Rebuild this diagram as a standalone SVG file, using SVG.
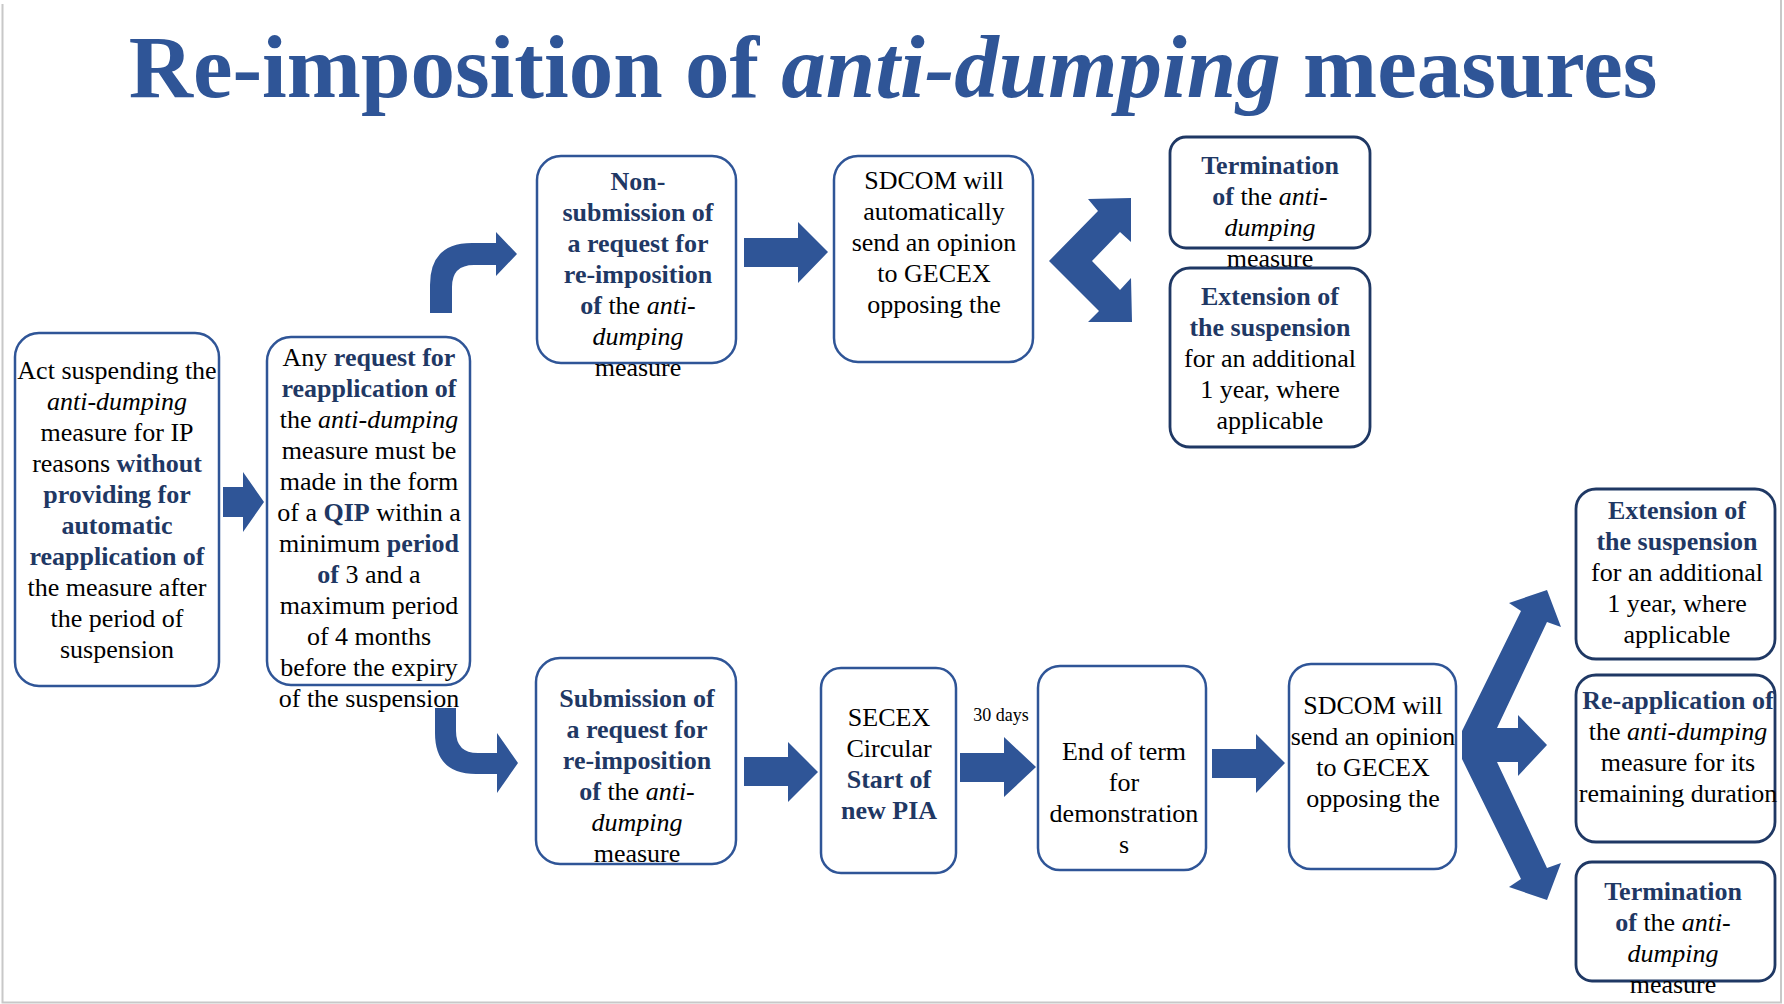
<svg xmlns="http://www.w3.org/2000/svg" width="1784" height="1004" viewBox="0 0 1784 1004">
<style>
.bg{fill:#ffffff}
.frame{stroke:#c8c8c8;stroke-width:2;fill:none}
.box{fill:#ffffff;stroke:#2F5597;stroke-width:2.5}
.box2{fill:#ffffff;stroke:#1F3864;stroke-width:2.8}
.arr{fill:#2F5597}
.t{font-family:"Liberation Serif","Times New Roman",serif;font-size:26px;fill:#000000;text-anchor:middle}
.b{font-weight:bold;fill:#1F3864}
.i{font-style:italic}
.title{font-family:"Liberation Serif","Times New Roman",serif;font-size:89px;font-weight:bold;fill:#2F5597;text-anchor:middle}
.small{font-family:"Liberation Serif","Times New Roman",serif;font-size:18px;fill:#000000;text-anchor:middle}
</style>
<rect class="bg" x="0" y="0" width="1784" height="1004"/>
<path class="frame" d="M2.5,4 V1002.5 H1781 V0"/>
<g id="title">
<text class="title" x="893" y="97">Re-imposition of <tspan font-style="italic">anti-dumping</tspan> measures</text>
</g>
<g id="connectors">
<polygon class="arr" points="223,487 243,487 243,472 264,502 243,532 243,517 223,517"/>
<path class="arr" d="M430,313 L430,285 Q430,243 472,243 L496,243 L496,232 L517,254 L496,276 L496,265 L474,265 Q452,265 452,287 L452,313 Z"/>
<path class="arr" d="M435,708 L435,733 Q435,774 476,774 L497,774 L497,793 L518,763 L497,733 L497,753 L478,753 Q456,753 456,731 L456,708 Z"/>
<polygon class="arr" points="744,238 798,238 798,222 828,252 798,283 798,267 744,267"/>
<polygon class="arr" points="1049,261 1098,211 1088,199 1131,198 1131,242 1120,232 1092,261 1120,290 1131,278 1132,322 1088,322 1099,311"/>
<polygon class="arr" points="744,757 788,757 788,742 818,772 788,802 788,786 744,786"/>
<text class="small" x="1001" y="721">30 days</text>
<polygon class="arr" points="960,753 1004,753 1004,737 1036,767 1004,797 1004,782 960,782"/>
<polygon class="arr" points="1212,749 1256,749 1256,734 1285,763 1256,793 1256,778 1212,778"/>
<polygon class="arr" points="1462,731 1521,611 1509,603 1547,590 1561,627 1547,622 1497,728 1518,728 1518,715 1547,745 1518,776 1518,762 1497,762 1547,868 1561,863 1547,900 1509,887 1521,879 1462,759"/>
</g>
<g id="n1">
<rect class="box" x="15" y="333" width="204" height="353" rx="24"/>
<text class="t" x="117" y="379">Act suspending the</text>
<text class="t i" x="117" y="410">anti-dumping</text>
<text class="t" x="117" y="441">measure for IP</text>
<text class="t" x="117" y="472">reasons <tspan class="b">without</tspan></text>
<text class="t b" x="117" y="503">providing for</text>
<text class="t b" x="117" y="534">automatic</text>
<text class="t b" x="117" y="565">reapplication of</text>
<text class="t" x="117" y="596">the measure after</text>
<text class="t" x="117" y="627">the period of</text>
<text class="t" x="117" y="658">suspension</text>
</g>
<g id="n2">
<rect class="box" x="267" y="337" width="203" height="348" rx="24"/>
<text class="t" x="369" y="366">Any <tspan class="b">request for</tspan></text>
<text class="t b" x="369" y="397">reapplication of</text>
<text class="t" x="369" y="428">the <tspan class="i">anti-dumping</tspan></text>
<text class="t" x="369" y="459">measure must be</text>
<text class="t" x="369" y="490">made in the form</text>
<text class="t" x="369" y="521">of a <tspan class="b">QIP</tspan> within a</text>
<text class="t" x="369" y="552">minimum <tspan class="b">period</tspan></text>
<text class="t" x="369" y="583"><tspan class="b">of</tspan> 3 and a</text>
<text class="t" x="369" y="614">maximum period</text>
<text class="t" x="369" y="645">of 4 months</text>
<text class="t" x="369" y="676">before the expiry</text>
<text class="t" x="369" y="707">of the suspension</text>
</g>
<g id="n3">
<rect class="box" x="537" y="156" width="199" height="207" rx="24"/>
<text class="t b" x="638" y="190">Non-</text>
<text class="t b" x="638" y="221">submission of</text>
<text class="t b" x="638" y="252">a request for</text>
<text class="t b" x="638" y="283">re-imposition</text>
<text class="t" x="638" y="314"><tspan class="b">of</tspan> the <tspan class="i">anti-</tspan></text>
<text class="t i" x="638" y="345">dumping</text>
<text class="t" x="638" y="376">measure</text>
</g>
<g id="n4">
<rect class="box" x="834" y="156" width="199" height="206" rx="24"/>
<text class="t" x="934" y="189">SDCOM will</text>
<text class="t" x="934" y="220">automatically</text>
<text class="t" x="934" y="251">send an opinion</text>
<text class="t" x="934" y="282">to GECEX</text>
<text class="t" x="934" y="313">opposing the</text>
</g>
<g id="n5">
<rect class="box2" x="1170" y="137" width="200" height="111" rx="16"/>
<text class="t b" x="1270" y="174">Termination</text>
<text class="t" x="1270" y="205"><tspan class="b">of</tspan> the <tspan class="i">anti-</tspan></text>
<text class="t i" x="1270" y="236">dumping</text>
<text class="t" x="1270" y="267">measure</text>
</g>
<g id="n6">
<rect class="box2" x="1170" y="268" width="200" height="179" rx="20"/>
<text class="t b" x="1270" y="305">Extension of</text>
<text class="t b" x="1270" y="336">the suspension</text>
<text class="t" x="1270" y="367">for an additional</text>
<text class="t" x="1270" y="398">1 year, where</text>
<text class="t" x="1270" y="429">applicable</text>
</g>
<g id="n7">
<rect class="box" x="536" y="658" width="200" height="206" rx="24"/>
<text class="t b" x="637" y="707">Submission of</text>
<text class="t b" x="637" y="738">a request for</text>
<text class="t b" x="637" y="769">re-imposition</text>
<text class="t" x="637" y="800"><tspan class="b">of</tspan> the <tspan class="i">anti-</tspan></text>
<text class="t i" x="637" y="831">dumping</text>
<text class="t" x="637" y="862">measure</text>
</g>
<g id="n8">
<rect class="box" x="821" y="668" width="135" height="205" rx="20"/>
<text class="t" x="889" y="726">SECEX</text>
<text class="t" x="889" y="757">Circular</text>
<text class="t b" x="889" y="788">Start of</text>
<text class="t b" x="889" y="819">new PIA</text>
</g>
<g id="n9">
<rect class="box" x="1038" y="666" width="168" height="204" rx="22"/>
<text class="t" x="1124" y="760">End of term</text>
<text class="t" x="1124" y="791">for</text>
<text class="t" x="1124" y="822">demonstration</text>
<text class="t" x="1124" y="853">s</text>
</g>
<g id="n10">
<rect class="box" x="1289" y="664" width="167" height="205" rx="22"/>
<text class="t" x="1373" y="714">SDCOM will</text>
<text class="t" x="1373" y="745">send an opinion</text>
<text class="t" x="1373" y="776">to GECEX</text>
<text class="t" x="1373" y="807">opposing the</text>
</g>
<g id="n11">
<rect class="box2" x="1576" y="489" width="199" height="170" rx="20"/>
<text class="t b" x="1677" y="519">Extension of</text>
<text class="t b" x="1677" y="550">the suspension</text>
<text class="t" x="1677" y="581">for an additional</text>
<text class="t" x="1677" y="612">1 year, where</text>
<text class="t" x="1677" y="643">applicable</text>
</g>
<g id="n12">
<rect class="box2" x="1576" y="675" width="199" height="167" rx="20"/>
<text class="t b" x="1678" y="709">Re-application of</text>
<text class="t" x="1678" y="740">the <tspan class="i">anti-dumping</tspan></text>
<text class="t" x="1678" y="771">measure for its</text>
<text class="t" x="1678" y="802">remaining duration</text>
</g>
<g id="n13">
<rect class="box2" x="1576" y="862" width="199" height="119" rx="16"/>
<text class="t b" x="1673" y="900">Termination</text>
<text class="t" x="1673" y="931"><tspan class="b">of</tspan> the <tspan class="i">anti-</tspan></text>
<text class="t i" x="1673" y="962">dumping</text>
<text class="t" x="1673" y="993">measure</text>
</g>
</svg>
